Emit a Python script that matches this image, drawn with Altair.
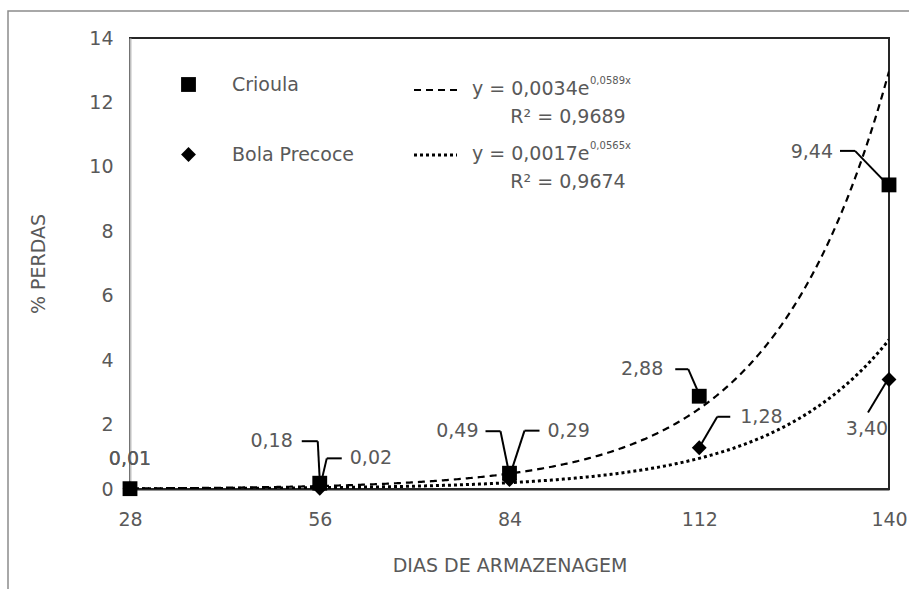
import altair as alt
import pandas as pd

# storage days and % losses per onion cultivar
dias = [28, 56, 84, 112, 140]
crioula = [0.01, 0.18, 0.49, 2.88, 9.44]
bola_precoce = [0.01, 0.02, 0.29, 1.28, 3.40]
series = ["Crioula", "Bola Precoce"]
y_ticks = [0, 2, 4, 6, 8, 10, 12, 14]

# exponential trendlines y = a * e^(b x)
trend = {
    "Crioula": {"a": 0.0034, "b": 0.0589, "eq": "y = 0,0034e", "sup": "0,0589x", "r2": "R² = 0,9689"},
    "Bola Precoce": {"a": 0.0017, "b": 0.0565, "eq": "y = 0,0017e", "sup": "0,0565x", "r2": "R² = 0,9674"},
}


def fmt(v):
    return f"{v:.2f}".replace(".", ",")


pontos = pd.DataFrame({
    "dia": dias * 2,
    "valor": crioula + bola_precoce,
    "serie": [series[0]] * len(dias) + [series[1]] * len(dias),
})
pontos["rotulo"] = pontos["valor"].map(fmt)

W, H = 759, 451
FONT = "DejaVu Sans"
FS = 19
GRAY = "#595959"
DASH = [7, 5]
DOT = [3, 3]

x_scale = alt.Scale(domain=[28, 140], nice=False, zero=False)
y_scale = alt.Scale(domain=[0, 14], nice=False)

x_axis = alt.Axis(
    values=dias, title="DIAS DE ARMAZENAGEM", grid=False, ticks=False,
    domainColor="#262626", domainWidth=2, labelFont=FONT, labelFontSize=FS,
    labelColor=GRAY, labelPadding=21, labelFlush=False, titleFont=FONT,
    titleFontSize=FS, titleColor=GRAY, titleFontWeight="normal", titlePadding=27,
)
y_axis = alt.Axis(
    values=y_ticks, title="% PERDAS", grid=False, ticks=False,
    domainColor="#bfbfbf", domainWidth=2, labelFont=FONT, labelFontSize=FS,
    labelColor=GRAY, labelPadding=17, titleFont=FONT, titleFontSize=FS,
    titleColor=GRAY, titleFontWeight="normal", titlePadding=40,
)

X = alt.X("dia:Q", scale=x_scale, axis=x_axis)
Y = alt.Y("valor:Q", scale=y_scale, axis=y_axis)

base = alt.Chart(pontos)


# fitted exponential curves
def trend_layer(name, dash, width):
    t = trend[name]
    return (
        alt.Chart(alt.sequence(28, 140.25, 0.25, as_="dia"))
        .transform_calculate(valor=f"{t['a']} * exp({t['b']} * datum.dia)")
        .mark_line(color="black", strokeWidth=width, strokeDash=dash, clip=True)
        .encode(x=X, y=Y)
    )


curvas = trend_layer("Crioula", DASH, 2.2) + trend_layer("Bola Precoce", DOT, 3)

# observed points
marcadores = base.mark_point(
    filled=True, color="black", opacity=1, size=220
).encode(
    x=X,
    y=Y,
    shape=alt.Shape(
        "serie:N",
        scale=alt.Scale(domain=series, range=["square", "diamond"]),
        legend=alt.Legend(
            title=None, orient="none", legendX=49, legendY=37, padding=0,
            symbolSize=220, symbolFillColor="black", symbolStrokeColor="black",
            symbolStrokeWidth=0, symbolOpacity=1, labelFont=FONT,
            labelFontSize=FS, labelColor=GRAY, labelOffset=34, rowPadding=50,
        ),
    ),
)

# data labels with leader lines (offsets in pixels from the point)
callouts = {
    ("Crioula", 28): {"dx": 0, "dy": -30, "align": "center", "leader": []},
    ("Bola Precoce", 28): {"dx": 0, "dy": -30, "align": "center", "leader": []},
    ("Crioula", 56): {"dx": -27, "dy": -42, "align": "right",
                      "leader": [(-18, -42), (-2, -42), (0, -3)]},
    ("Bola Precoce", 56): {"dx": 30, "dy": -30, "align": "left",
                           "leader": [(22, -30), (7, -30), (0, 0)]},
    ("Crioula", 84): {"dx": -31, "dy": -42, "align": "right",
                      "leader": [(-24, -42), (-9, -42), (-1, -3)]},
    ("Bola Precoce", 84): {"dx": 38, "dy": -49, "align": "left",
                           "leader": [(30, -49), (15, -49), (0, -3)]},
    ("Crioula", 112): {"dx": -36, "dy": -27, "align": "right",
                       "leader": [(-24, -27), (-11, -27), (-1, -4)]},
    ("Bola Precoce", 112): {"dx": 41, "dy": -31, "align": "left",
                            "leader": [(31, -31), (18, -31), (1, -2)]},
    ("Crioula", 140): {"dx": -56, "dy": -33, "align": "right",
                       "leader": [(-49, -34), (-34, -34), (-4, -3)]},
    ("Bola Precoce", 140): {"dx": -22, "dy": 50, "align": "center",
                            "leader": [(-21, 33), (-3, 3)]},
}

rotulos = []
for (serie, dia), c in callouts.items():
    sel = base.transform_filter(
        (alt.datum.serie == serie) & (alt.datum.dia == dia)
    )
    rotulos.append(
        sel.mark_text(
            font=FONT, fontSize=FS, color=GRAY, align=c["align"],
            baseline="middle", dx=c["dx"], dy=c["dy"],
        ).encode(x=X, y=Y, text="rotulo:N")
    )
    pts = c["leader"]
    for (x1, y1), (x2, y2) in zip(pts[:-1], pts[1:]):
        rotulos.append(
            sel.mark_rule(
                color="black", strokeWidth=2, xOffset=x1, yOffset=y1,
                x2Offset=x2, y2Offset=y2,
            ).encode(x=X, y=Y, x2=alt.X2("dia"), y2=alt.Y2("valor"))
        )

# trendline key: line samples and equations
um = alt.Chart(pd.DataFrame({"k": [0]}))
chave = []
for name, dash, w, ys in [("Crioula", DASH, 2, 52), ("Bola Precoce", DOT, 3, 117)]:
    t = trend[name]
    chave.append(
        um.mark_rule(color="black", strokeWidth=w, strokeDash=dash).encode(
            x=alt.value(284), x2=alt.value(327), y=alt.value(ys)
        )
    )
    chave.append(
        um.mark_text(font=FONT, fontSize=FS, color=GRAY, align="left",
                     baseline="middle", text=t["eq"]).encode(
            x=alt.value(342), y=alt.value(ys - 1)
        )
    )
    chave.append(
        um.mark_text(font=FONT, fontSize=10, color=GRAY, align="left",
                     baseline="middle", text=t["sup"]).encode(
            x=alt.value(460), y=alt.value(ys - 9)
        )
    )
    chave.append(
        um.mark_text(font=FONT, fontSize=FS, color=GRAY, align="center",
                     baseline="middle", text=t["r2"]).encode(
            x=alt.value(438), y=alt.value(ys + 27)
        )
    )

# chart area border
moldura = um.mark_rect(fillOpacity=0, stroke="#8c8c8c", strokeWidth=1.5).encode(
    x=alt.value(-122), x2=alt.value(900), y=alt.value(-27), y2=alt.value(600)
)

chart = (
    alt.layer(moldura, curvas, *rotulos, marcadores, *chave)
    .properties(
        width=W, height=H,
        autosize=alt.AutoSizeParams(type="none"),
        padding={"left": 130, "top": 38, "right": 20, "bottom": 100},
        background="white",
    )
    .configure_view(stroke="#262626", strokeWidth=2)
)

chart.save("out.html", embed_options={"renderer": "svg", "actions": False})
